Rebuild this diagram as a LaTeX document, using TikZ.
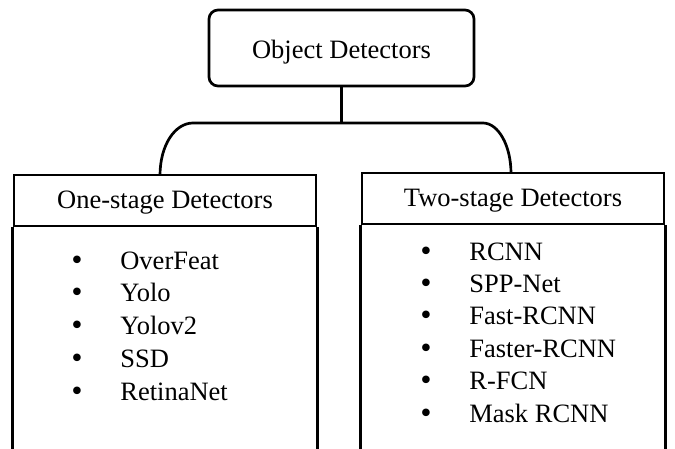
\documentclass[tikz,border=0pt]{standalone}
\usepackage{fontspec}
\setmainfont{Liberation Serif}
\newfontfamily\bulfont{DejaVu Sans}
\begin{document}
\begin{tikzpicture}[x=1pt,y=-1pt,line width=2.7pt,
  box/.style={draw,line width=2.7pt,inner sep=0pt},
  lbl/.style={font=\fontsize{26.5}{30}\selectfont,inner sep=0pt,anchor=base},
  item/.style={font=\fontsize{26.5}{30}\selectfont,inner sep=0pt,anchor=base west},
  bul/.style={font=\bulfont\fontsize{26}{28}\selectfont,inner sep=0pt,anchor=base},
  conn/.style={draw,line width=2.7pt}]
\useasboundingbox (0,0) rectangle (675,448);
\clip (0,0) rectangle (675,448);
% root
\node[box,rounded corners=9pt,minimum width=265pt,minimum height=76pt] (root) at (341.5,48) {};
\node[lbl] (roottxt) at (341.5,58) {Object Detectors};
% headers
\node[box,minimum width=302pt,minimum height=51pt] (one) at (165,200.5) {};
\node[lbl] (onetxt) at (165,208) {One-stage Detectors};
\node[box,minimum width=302pt,minimum height=51pt] (two) at (513,198.5) {};
\node[lbl] (twotxt) at (513,206) {Two-stage Detectors};
% body sides
\draw (one.south west) -- ++(0,240) coordinate (oneBL);
\draw (one.south east) -- ++(0,240) coordinate (oneBR);
\draw (two.south west) -- ++(0,240) coordinate (twoBL);
\draw (two.south east) -- ++(0,240) coordinate (twoBR);
% connectors
\coordinate (j) at (341.5,123);
\coordinate (lc) at (160,175.5);
\coordinate (rc) at (511,173.5);
\draw[conn] (root.south) -- (j);
\draw[conn] (lc) .. controls (160,145) and (175,123) .. (193,123) -- (483,123)
  .. controls (498,123) and (511,145) .. (rc);
% lists
\foreach \t [count=\i] in {OverFeat,Yolo,Yolov2,SSD,RetinaNet}{
  \pgfmathsetmacro\yy{269+32.8*(\i-1)}
  \node[bul] (ob\i) at (77,\yy) {•};
  \node[item] (oi\i) at (119,\yy) {\t};
}
\foreach \t [count=\i] in {RCNN,SPP-Net,Fast-RCNN,Faster-RCNN,R-FCN,Mask RCNN}{
  \pgfmathsetmacro\yy{260+32.4*(\i-1)}
  \node[bul] (tb\i) at (426,\yy) {•};
  \node[item] (ti\i) at (468,\yy) {\t};
}
\end{tikzpicture}
\end{document}
